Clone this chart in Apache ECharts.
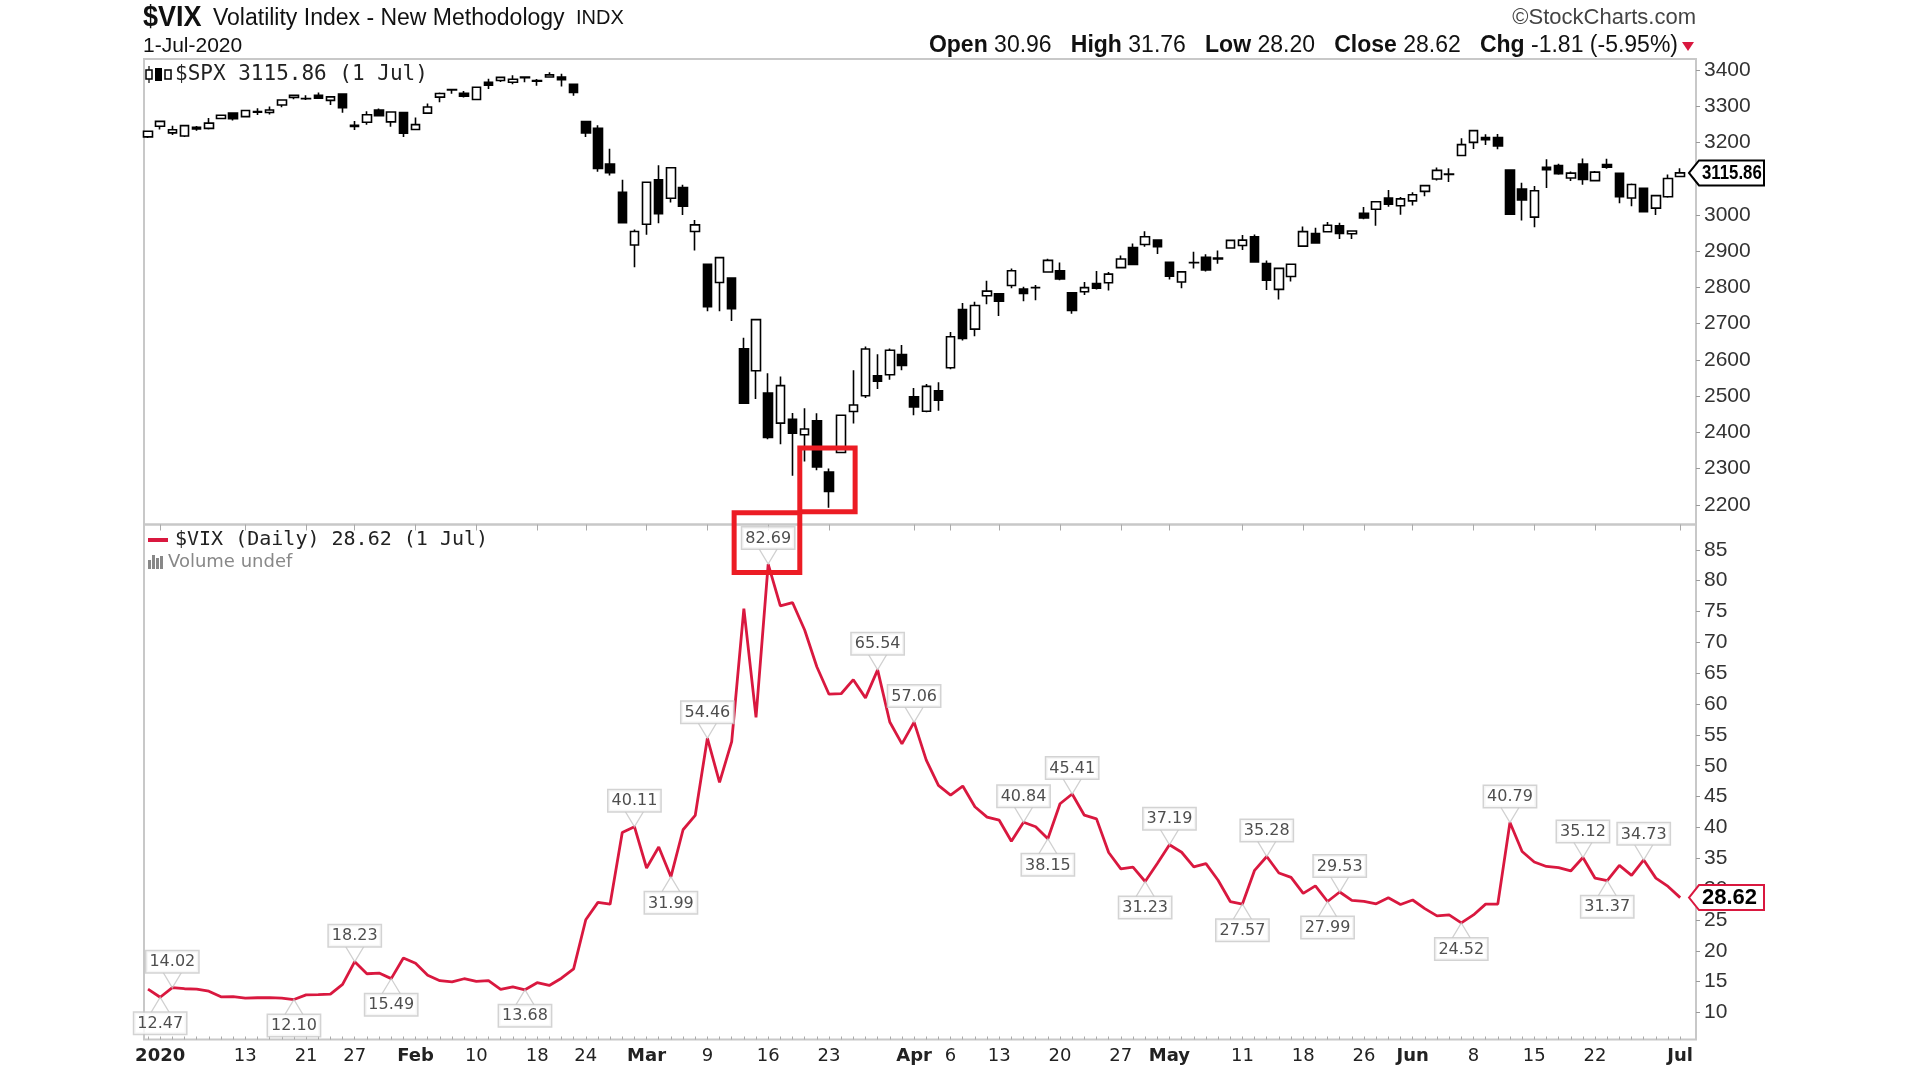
<!DOCTYPE html>
<html>
<head>
<meta charset="utf-8">
<title>$VIX Volatility Index - New Methodology</title>
<script src="https://cdn.jsdelivr.net/npm/echarts@6/dist/echarts.min.js"></script>
<style>
  html, body { margin: 0; padding: 0; background: #fff; }
  #chart { width: 1920px; height: 1080px; }
</style>
</head>
<body>
<div id="chart"></div>
<script>
// Trading days, 31-Dec-2019 .. 1-Jul-2020
const dates = ['12/31',
  '1/2','1/3','1/6','1/7','1/8','1/9','1/10','1/13','1/14','1/15','1/16','1/17','1/21','1/22','1/23','1/24','1/27','1/28','1/29','1/30','1/31',
  '2/3','2/4','2/5','2/6','2/7','2/10','2/11','2/12','2/13','2/14','2/18','2/19','2/20','2/21','2/24','2/25','2/26','2/27','2/28',
  '3/2','3/3','3/4','3/5','3/6','3/9','3/10','3/11','3/12','3/13','3/16','3/17','3/18','3/19','3/20','3/23','3/24','3/25','3/26','3/27','3/30','3/31',
  '4/1','4/2','4/3','4/6','4/7','4/8','4/9','4/13','4/14','4/15','4/16','4/17','4/20','4/21','4/22','4/23','4/24','4/27','4/28','4/29','4/30',
  '5/1','5/4','5/5','5/6','5/7','5/8','5/11','5/12','5/13','5/14','5/15','5/18','5/19','5/20','5/21','5/22','5/26','5/27','5/28','5/29',
  '6/1','6/2','6/3','6/4','6/5','6/8','6/9','6/10','6/11','6/12','6/15','6/16','6/17','6/18','6/19','6/22','6/23','6/24','6/25','6/26','6/29','6/30',
  '7/1'];

// $SPX daily candles
const spxOpen = [3215.18,
  3244.67,3226.36,3217.55,3241.86,3238.59,3266.03,3280.79,3271.13,3285.35,3282.27,3302.97,3323.66,3321.03,3330.02,3315.77,3333.10,3247.16,3255.35,3289.46,3256.45,3282.33,
  3235.66,3280.61,3324.91,3344.92,3335.54,3318.28,3365.87,3370.50,3365.90,3378.08,3369.04,3380.39,3380.45,3360.50,3257.61,3238.94,3139.90,3062.54,2916.90,
  2974.28,3096.46,3045.75,3075.70,2954.20,2863.89,2813.48,2825.60,2630.86,2569.99,2508.59,2425.66,2436.50,2393.48,2431.94,2290.71,2344.44,2457.77,2501.29,2555.87,2558.98,2614.69,
  2498.08,2458.54,2514.92,2578.28,2738.65,2685.00,2776.99,2782.46,2805.10,2795.64,2799.34,2842.43,2845.62,2784.81,2787.89,2810.42,2812.64,2854.65,2909.96,2918.46,2930.91,
  2869.09,2815.01,2868.88,2883.14,2878.26,2908.83,2915.46,2939.50,2865.86,2794.54,2829.95,2913.86,2948.59,2953.63,2969.95,2948.05,3004.08,3015.65,3046.61,3025.17,
  3038.78,3064.78,3098.90,3111.56,3163.84,3199.92,3213.32,3213.42,3123.53,3071.04,2993.76,3131.00,3136.13,3101.64,3140.29,3094.42,3138.70,3114.40,3046.60,3073.20,3018.59,3050.20,
  3105.92];
const spxHigh = [3231.72,
  3258.14,3246.15,3246.84,3244.91,3267.07,3275.58,3282.99,3288.13,3294.25,3298.66,3317.11,3329.88,3329.79,3337.77,3326.88,3333.18,3258.85,3285.78,3293.47,3285.91,3282.33,
  3268.44,3306.92,3337.58,3347.96,3341.42,3352.26,3375.63,3381.47,3385.09,3380.69,3375.01,3393.52,3389.15,3360.76,3259.81,3246.99,3182.51,3097.07,2959.72,
  3090.96,3136.72,3130.97,3083.04,2985.93,2863.89,2882.59,2825.60,2660.95,2711.33,2562.98,2553.93,2453.57,2466.97,2453.01,2300.73,2449.71,2571.42,2637.01,2615.91,2631.80,2641.39,
  2522.75,2533.22,2538.18,2676.85,2756.89,2760.75,2818.57,2782.46,2851.85,2801.88,2806.51,2879.22,2868.98,2785.54,2815.10,2844.90,2842.71,2887.72,2921.15,2954.86,2930.91,
  2869.09,2844.24,2898.23,2891.11,2901.92,2932.16,2944.25,2945.82,2874.14,2852.80,2865.01,2968.09,2964.21,2980.29,2978.50,2956.76,3021.72,3036.25,3068.67,3049.17,
  3062.18,3081.07,3130.94,3128.91,3211.72,3233.13,3222.71,3223.27,3123.53,3088.42,3079.76,3153.45,3141.16,3120.00,3155.53,3120.92,3154.90,3115.01,3086.25,3073.73,3053.89,3111.51,
  3128.44];
const spxLow = [3212.03,
  3235.53,3220.51,3214.64,3232.43,3235.53,3263.67,3260.70,3268.43,3275.33,3277.06,3297.06,3318.86,3316.61,3321.52,3302.97,3281.53,3234.50,3248.92,3271.89,3242.80,3214.68,
  3235.66,3280.61,3310.87,3334.39,3323.46,3317.77,3347.01,3366.51,3360.52,3365.87,3356.14,3380.39,3354.05,3328.45,3214.65,3118.77,3108.99,2977.39,2855.84,
  2945.19,2976.63,3034.38,2999.83,2901.54,2734.43,2734.00,2707.22,2478.86,2492.37,2380.94,2367.04,2280.52,2319.78,2295.56,2191.86,2344.44,2424.53,2495.12,2520.02,2545.28,2571.15,
  2447.49,2455.79,2459.96,2574.57,2653.21,2665.16,2753.52,2721.17,2797.51,2761.54,2764.32,2842.43,2820.00,2727.10,2778.96,2794.26,2791.76,2854.65,2862.57,2912.04,2892.47,
  2821.61,2797.85,2852.23,2844.20,2865.05,2908.83,2903.28,2869.59,2793.15,2766.64,2816.44,2913.86,2921.76,2953.63,2933.59,2933.52,2988.17,2969.75,3022.55,3000.50,
  3025.84,3051.64,3094.73,3090.41,3163.84,3181.49,3193.11,3181.35,2999.49,2984.47,2965.66,3074.46,3110.45,3093.51,3083.11,3093.00,3127.12,3032.13,3024.01,3007.26,2999.74,3047.45,
  3104.84];
const spxClose = [3230.78,
  3257.85,3234.85,3246.28,3237.18,3253.05,3274.70,3265.35,3288.13,3283.15,3289.29,3316.81,3329.62,3320.79,3321.75,3325.54,3295.47,3243.63,3276.24,3273.40,3283.66,3225.52,
  3248.92,3297.59,3334.69,3345.78,3327.71,3352.09,3357.75,3379.45,3373.94,3380.16,3370.29,3386.15,3373.23,3337.75,3225.89,3128.21,3116.39,2978.76,2954.22,
  3090.23,3003.37,3130.12,3023.94,2972.37,2746.56,2882.23,2741.38,2480.64,2711.02,2386.13,2529.19,2398.10,2409.39,2304.92,2237.40,2447.33,2475.56,2630.07,2541.47,2626.65,2584.59,
  2470.50,2526.90,2488.65,2663.68,2659.41,2749.98,2789.82,2761.63,2846.06,2783.36,2799.55,2874.56,2823.16,2736.56,2799.31,2797.80,2836.74,2878.48,2863.39,2939.51,2912.43,
  2830.71,2842.74,2868.44,2848.42,2881.19,2929.80,2930.32,2870.12,2820.00,2852.50,2863.70,2953.91,2922.94,2971.61,2948.51,2955.45,2991.77,3036.13,3029.73,3044.31,
  3055.73,3080.82,3122.87,3112.35,3193.93,3232.39,3207.18,3190.14,3002.10,3041.31,3066.59,3124.74,3113.49,3115.34,3097.74,3117.86,3131.29,3050.33,3083.76,3009.05,3053.24,3100.29,
  3115.86];

// $VIX daily close
const vixClose = [13.78,
  12.47,14.02,13.85,13.79,13.45,12.54,12.56,12.32,12.39,12.42,12.32,12.10,12.85,12.91,12.98,14.56,18.23,16.28,16.39,15.49,18.84,
  17.97,16.05,15.15,14.96,15.47,15.04,15.18,13.74,14.15,13.68,14.83,14.38,15.56,17.08,25.03,27.85,27.56,39.16,40.11,
  33.42,36.82,31.99,39.62,41.94,54.46,47.30,53.90,75.47,57.83,82.69,75.91,76.45,72.00,66.04,61.59,61.67,63.95,61.00,65.54,57.08,53.54,
  57.06,50.91,46.80,45.24,46.70,43.35,41.67,41.17,37.76,40.84,40.11,38.15,43.83,45.41,41.98,41.38,35.93,33.29,33.57,31.23,34.15,
  37.19,35.97,33.61,34.12,31.44,27.98,27.57,33.04,35.28,32.61,31.89,29.30,30.53,27.99,29.53,28.16,28.01,27.62,28.59,27.51,
  28.23,26.84,25.66,25.81,24.52,25.81,27.57,27.57,40.79,36.09,34.40,33.67,33.47,32.94,35.12,31.77,31.37,33.84,32.22,34.73,31.78,30.43,
  28.62];

// labelled swing points
const vixPeakDates = ['1/3','1/27','2/28','3/9','3/16','3/27','4/1','4/15','4/21','5/1','5/13','5/21','6/11','6/19','6/26'];
const vixTroughDates = ['1/2','1/17','1/30','2/14','3/4','4/17','4/29','5/11','5/20','6/5','6/23'];

// x axis labels
const tickLabels = [['1/2','2020'],['1/13','13'],['1/21','21'],['1/27','27'],['2/3','Feb'],['2/10','10'],['2/18','18'],['2/24','24'],
  ['3/2','Mar'],['3/9','9'],['3/16','16'],['3/23','23'],['4/1','Apr'],['4/6','6'],['4/13','13'],['4/20','20'],['4/27','27'],
  ['5/1','May'],['5/11','11'],['5/18','18'],['5/26','26'],['6/1','Jun'],['6/8','8'],['6/15','15'],['6/22','22'],['7/1','Jul']];
const boldLabels = ['2020','Feb','Mar','Apr','May','Jun','Jul'];
const spxTicks = [2200,2300,2400,2500,2600,2700,2800,2900,3000,3100,3200,3300,3400];
const vixTicks = [10,15,20,25,30,35,40,45,50,55,60,65,70,75,80,85];

// header quote
const quote = [['Open','30.96'],['High','31.76'],['Low','28.20'],['Close','28.62'],['Chg','-1.81 (-5.95%)']];

// highlighted areas: [x, y] corners in data units
const redBoxes = [
  {grid: 0, from: [53.6, 2357], to: [58.15, 2181]},
  {grid: 1, from: [48.2, 91.0], to: [53.6, 81.3]}
];

const RED = '#d9183f';
const idx = function (d) { return dates.indexOf(d); };
const tickIdx = tickLabels.map(function (t) { return idx(t[0]); });
const allIdx = dates.map(function (d, i) { return i; });

const calloutLabel = {
  show: true,
  distance: 0,
  fontFamily: 'DejaVu Sans',
  fontSize: 16,
  color: '#222',
  backgroundColor: '#fff',
  borderColor: '#c8c8c8',
  borderWidth: 1.5,
  padding: [3, 3, 2, 3],
  formatter: function (p) { return p.value[1].toFixed(2); }
};

const xBase = {
  type: 'value',
  min: -0.33,
  max: 127.3,
  splitLine: {show: false},
  axisLine: {show: false, onZero: false},
  axisTick: {show: false},
  axisLabel: {show: false}
};

const yLabel = {margin: 8, fontFamily: 'Liberation Sans', fontSize: 21, color: '#333',
  formatter: function (v) { return String(v); }};

const option = {
  animation: false,
  backgroundColor: '#fff',
  grid: [
    {left: 144, right: 224, top: 59, height: 465.5, show: true, borderColor: '#c8c8c8', borderWidth: 2, outerBoundsMode: 'none'},
    {left: 144, right: 224, top: 524.5, height: 515, show: true, borderColor: '#c8c8c8', borderWidth: 2, outerBoundsMode: 'none'}
  ],
  xAxis: [
    Object.assign({}, xBase, {gridIndex: 0}),
    Object.assign({}, xBase, {
      gridIndex: 1,
      axisTick: {show: true, inside: true, length: 3, customValues: allIdx, lineStyle: {color: '#aaa', width: 1}},
      axisLabel: {
        show: true,
        customValues: tickIdx,
        margin: 8,
        fontFamily: 'DejaVu Sans',
        fontSize: 18,
        color: '#222',
        formatter: function (v) {
          const t = tickLabels[tickIdx.indexOf(Math.round(v))][1];
          return boldLabels.indexOf(t) >= 0 ? '{b|' + t + '}' : t;
        },
        rich: {b: {fontFamily: 'DejaVu Sans', fontSize: 18, fontWeight: 'bold', color: '#222'}}
      }
    }),
    Object.assign({}, xBase, {
      gridIndex: 1,
      axisTick: {show: true, inside: true, length: 6, customValues: tickIdx, lineStyle: {color: '#aaa', width: 1}}
    })
  ],
  yAxis: [
    {
      gridIndex: 0, type: 'value', position: 'right', min: 2146, max: 3430,
      splitLine: {show: false},
      axisLine: {show: false, onZero: false},
      axisTick: {show: true, length: 4, customValues: spxTicks, lineStyle: {color: '#999'}},
      axisLabel: Object.assign({customValues: spxTicks}, yLabel)
    },
    {
      gridIndex: 1, type: 'value', position: 'right', min: 5.62, max: 89.1,
      splitLine: {show: false},
      axisLine: {show: false, onZero: false},
      axisTick: {show: true, length: 4, customValues: vixTicks, lineStyle: {color: '#999'}},
      axisLabel: Object.assign({customValues: vixTicks}, yLabel)
    }
  ],
  series: [
    {
      name: '$SPX',
      type: 'candlestick',
      xAxisIndex: 0,
      yAxisIndex: 0,
      data: dates.map(function (d, i) { return [i, spxOpen[i], spxClose[i], spxLow[i], spxHigh[i]]; }),
      encode: {x: 0, y: [1, 2, 3, 4]},
      barWidth: 9,
      itemStyle: {color: '#fff', color0: '#000', borderColor: '#000', borderColor0: '#000', borderColorDoji: '#000', borderWidth: 1.6}
    },
    {
      name: '$VIX',
      type: 'line',
      xAxisIndex: 1,
      yAxisIndex: 1,
      data: vixClose.map(function (v, i) { return [i, v]; }),
      showSymbol: false,
      symbol: 'none',
      lineStyle: {color: RED, width: 2.8},
      z: 3
    },
    {
      name: 'peaks',
      type: 'scatter',
      xAxisIndex: 1,
      yAxisIndex: 1,
      data: vixPeakDates.map(function (d) { return [idx(d), vixClose[idx(d)]]; }),
      symbol: 'path://M0,0L9,15L18,0',
      symbolSize: [18, 15],
      symbolOffset: [0, -7.5],
      itemStyle: {color: 'rgba(0,0,0,0)', borderColor: '#c4c4c4', borderWidth: 1.2},
      label: Object.assign({}, calloutLabel, {position: 'top'}),
      z: 4
    },
    {
      name: 'troughs',
      type: 'scatter',
      xAxisIndex: 1,
      yAxisIndex: 1,
      data: vixTroughDates.map(function (d) { return [idx(d), vixClose[idx(d)]]; }),
      symbol: 'path://M0,15L9,0L18,15',
      symbolSize: [18, 15],
      symbolOffset: [0, 7.5],
      itemStyle: {color: 'rgba(0,0,0,0)', borderColor: '#c4c4c4', borderWidth: 1.2},
      label: Object.assign({}, calloutLabel, {position: 'bottom'}),
      z: 4
    }
  ]
};

const chart = echarts.init(document.getElementById('chart'), null, {renderer: 'canvas'});
chart.setOption(option);

// plain text element; squeeze < 1 narrows the glyphs horizontally
function txt(x, y, text, o) {
  o = o || {};
  return {
    type: 'text', x: x, y: y, z: 100,
    scaleX: o.squeeze || 1,
    style: {
      text: text,
      fill: o.fill || '#111',
      fontFamily: o.family || 'Liberation Sans',
      fontSize: o.size || 21,
      fontWeight: o.weight || 'normal',
      rich: o.rich,
      align: o.align || 'left', textAlign: o.align || 'left',
      verticalAlign: 'middle', textVerticalAlign: 'middle'
    }
  };
}

function priceTag(y, text, stroke, right, font) {
  return [
    {type: 'polygon', z: 100,
      shape: {points: [[1689, y], [1699, y - 12.5], [right, y - 12.5], [right, y + 12.5], [1699, y + 12.5]]},
      style: {fill: '#fff', stroke: stroke, lineWidth: 2}},
    txt(1702, y + 0.5, text, {size: font.size, squeeze: font.squeeze, weight: 'bold', fill: '#000'})
  ];
}

const quoteText = quote.map(function (q) { return '{b|' + q[0] + '} ' + q[1]; }).join('   ');

const graphics = [
  txt(143, 17.5, '$VIX', {size: 30, weight: 'bold', squeeze: 0.9}),
  txt(213, 18.5, 'Volatility Index - New Methodology', {size: 23}),
  txt(576, 18.5, 'INDX', {size: 20}),
  txt(143, 46, '1-Jul-2020', {size: 21}),
  txt(1696, 18, '\u00A9StockCharts.com', {size: 22, fill: '#444', align: 'right'}),
  txt(1678, 46, quoteText, {size: 23, align: 'right',
    rich: {b: {fontFamily: 'Liberation Sans', fontSize: 23, fontWeight: 'bold', fill: '#111'}}}),
  {type: 'polygon', z: 100, shape: {points: [[1682, 42], [1694, 42], [1688, 51]]}, style: {fill: RED}},

  // $SPX legend with candle icon
  {type: 'line', z: 100, shape: {x1: 149, y1: 66, x2: 149, y2: 83}, style: {stroke: '#000', lineWidth: 1.2}},
  {type: 'rect', z: 101, shape: {x: 146, y: 70, width: 6, height: 9}, style: {fill: '#fff', stroke: '#000', lineWidth: 1.5}},
  {type: 'rect', z: 100, shape: {x: 155, y: 68, width: 7, height: 13}, style: {fill: '#000'}},
  {type: 'rect', z: 100, shape: {x: 165, y: 70, width: 6, height: 9}, style: {fill: '#fff', stroke: '#000', lineWidth: 1.5}},
  txt(175, 75, '$SPX 3115.86 (1 Jul)', {family: 'DejaVu Sans Mono', size: 21, fill: '#222'}),

  // $VIX legend
  {type: 'line', z: 100, shape: {x1: 148, y1: 540, x2: 168, y2: 540}, style: {stroke: RED, lineWidth: 4}},
  txt(175, 540, '$VIX (Daily) 28.62 (1 Jul)', {family: 'DejaVu Sans Mono', size: 20, fill: '#222'}),
  {type: 'rect', z: 100, shape: {x: 148, y: 560, width: 3, height: 9}, style: {fill: '#888'}},
  {type: 'rect', z: 100, shape: {x: 152, y: 555, width: 3, height: 14}, style: {fill: '#888'}},
  {type: 'rect', z: 100, shape: {x: 156, y: 558, width: 3, height: 11}, style: {fill: '#888'}},
  {type: 'rect', z: 100, shape: {x: 160, y: 556, width: 3, height: 13}, style: {fill: '#888'}},
  txt(168, 562, 'Volume undef', {family: 'DejaVu Sans', size: 18, fill: '#888'})
];

// last-value tags on the right axes
const spxLast = spxClose[spxClose.length - 1];
const vixLast = vixClose[vixClose.length - 1];
const spxY = chart.convertToPixel({yAxisIndex: 0}, spxLast);
const vixY = chart.convertToPixel({yAxisIndex: 1}, vixLast);
priceTag(spxY, spxLast.toFixed(2), '#000', 1764, {size: 21, squeeze: 0.8}).forEach(function (g) { graphics.push(g); });
priceTag(vixY, vixLast.toFixed(2), RED, 1764, {size: 22, squeeze: 1}).forEach(function (g) { graphics.push(g); });

// red highlight boxes
redBoxes.forEach(function (b) {
  const p0 = chart.convertToPixel({gridIndex: b.grid}, b.from);
  const p1 = chart.convertToPixel({gridIndex: b.grid}, b.to);
  graphics.push({
    type: 'rect', z: 110,
    shape: {x: Math.min(p0[0], p1[0]), y: Math.min(p0[1], p1[1]), width: Math.abs(p1[0] - p0[0]), height: Math.abs(p1[1] - p0[1])},
    style: {fill: 'none', stroke: '#ec1c24', lineWidth: 5}
  });
});

chart.setOption({graphic: graphics});
</script>
</body>
</html>
